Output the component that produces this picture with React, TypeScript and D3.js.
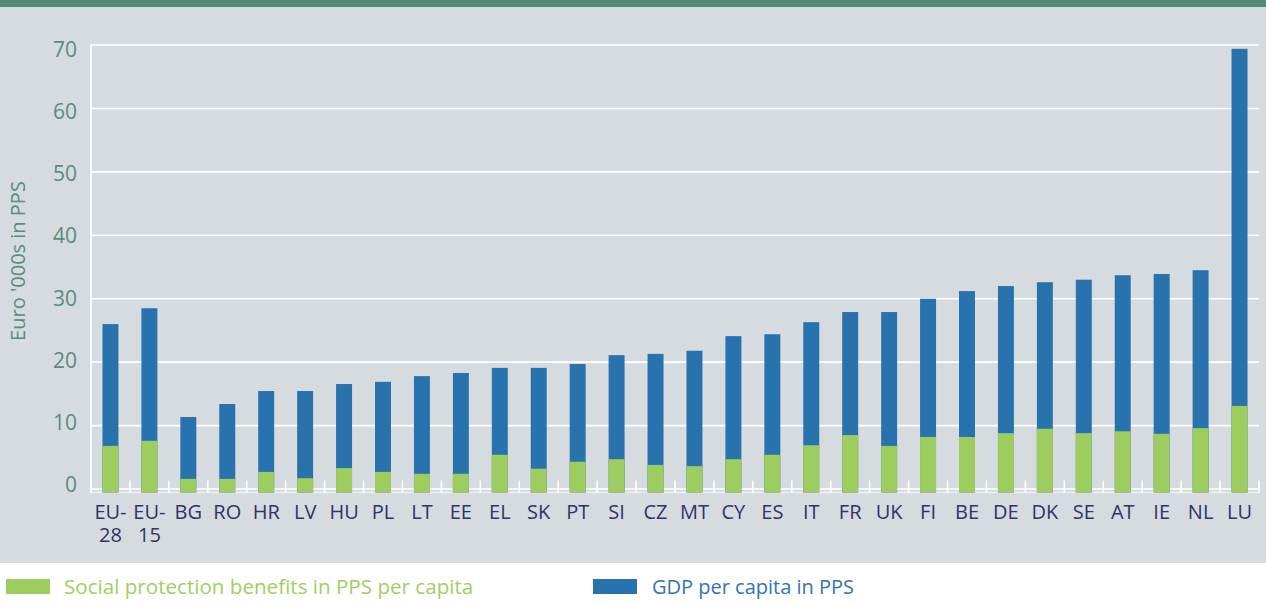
import React from "react";
import * as d3 from "d3";

const categories = ["EU-28","EU-15","BG","RO","HR","LV","HU","PL","LT","EE","EL","SK","PT","SI","CZ","MT","CY","ES","IT","FR","UK","FI","BE","DE","DK","SE","AT","IE","NL","LU"];
const gdpPerCapita = [26.0,28.5,11.35,13.4,15.45,15.45,16.55,16.9,17.8,18.3,19.1,19.1,19.7,21.1,21.3,21.8,24.1,24.4,26.3,27.9,27.9,30.0,31.2,32.0,32.6,33.0,33.7,33.9,34.5,69.4];
const socialBenefits = [6.8,7.6,1.6,1.6,2.7,1.7,3.3,2.7,2.4,2.4,5.4,3.2,4.3,4.7,3.8,3.6,4.7,5.4,6.9,8.5,6.8,8.2,8.2,8.8,9.5,8.8,9.1,8.7,9.6,13.1];
const yTicks = [0,10,20,30,40,50,60,70];
const seriesNames = ["Social protection benefits in PPS per capita", "GDP per capita in PPS"];

const W = 1266, H = 603;
const FONT = "'Open Sans', 'DejaVu Sans', sans-serif";
const GREEN = "#9dcc5f";
const BLUE = "#2872ae";
const AXIS_GREEN = "#5b8c7b";
const NAVY = "#2f3468";

export default function App() {
  const x = d3.scaleBand<string>().domain(categories).range([91, 1259]).paddingInner(0.59).paddingOuter(0.295);
  const y = d3.scaleLinear().domain([-0.55, 70]).range([492.5, 45]);
  const yLabel = d3.scaleLinear().domain([0, 70]).range([484.5, 49.5]);
  const step = x.step();
  const base = y(-0.55);
  const bounds = d3.range(categories.length + 1).map((i) => 91 + i * step);

  return (
    <svg width={W} height={H} style={{ position: "absolute", left: 0, top: 0, background: "#fff" }} fontFamily={FONT}>
      <rect x={0} y={0} width={W} height={563} fill="#d6dbdf" />
      <rect x={0} y={0} width={W} height={7} fill="#528a76" />

      {yTicks.map((t) => (
        <g key={t}>
          <line x1={91} x2={1259} y1={y(t)} y2={y(t)} stroke="#fff" strokeWidth={1.6} />
          <text x={77} y={yLabel(t) + 7.5} textAnchor="end" fontSize={21} fill={AXIS_GREEN}>{t}</text>
        </g>
      ))}
      <line x1={91} x2={91} y1={y(70)} y2={base} stroke="#fff" strokeWidth={1.6} />
      <line x1={91} x2={1259} y1={base} y2={base} stroke="#eef0f1" strokeWidth={1.6} />
      {bounds.map((bx, i) => (
        <line key={i} x1={bx} x2={bx} y1={base - 12} y2={base} stroke="#fff" strokeWidth={1.6} />
      ))}

      {categories.map((c, i) => (
        <g key={c}>
          <rect x={x(c)} y={y(gdpPerCapita[i])} width={x.bandwidth()} height={base - y(gdpPerCapita[i])} fill={BLUE} />
          <rect x={x(c)} y={y(socialBenefits[i])} width={x.bandwidth()} height={base - y(socialBenefits[i])} fill={GREEN} />
        </g>
      ))}

      {categories.map((c) => {
        const cx = (x(c) as number) + x.bandwidth() / 2;
        const parts = c.startsWith("EU-") ? ["EU-", c.slice(3)] : [c];
        return (
          <g key={c}>
            {parts.map((p, j) => (
              <text key={j} x={cx} y={519 + j * 23} textAnchor="middle" fontSize={20} fill={NAVY}>{p}</text>
            ))}
          </g>
        );
      })}

      <text transform="translate(25,261) rotate(-90)" textAnchor="middle" fontSize={20} fill={AXIS_GREEN}>Euro '000s in PPS</text>

      <rect x={6} y={579} width={44} height={15} fill={GREEN} />
      <text x={64} y={594} fontSize={20.6} fill="#9fce62">{seriesNames[0]}</text>
      <rect x={593} y={579} width={44} height={15} fill={BLUE} />
      <text x={652} y={594} fontSize={20} fill="#3274af">{seriesNames[1]}</text>
    </svg>
  );
}
